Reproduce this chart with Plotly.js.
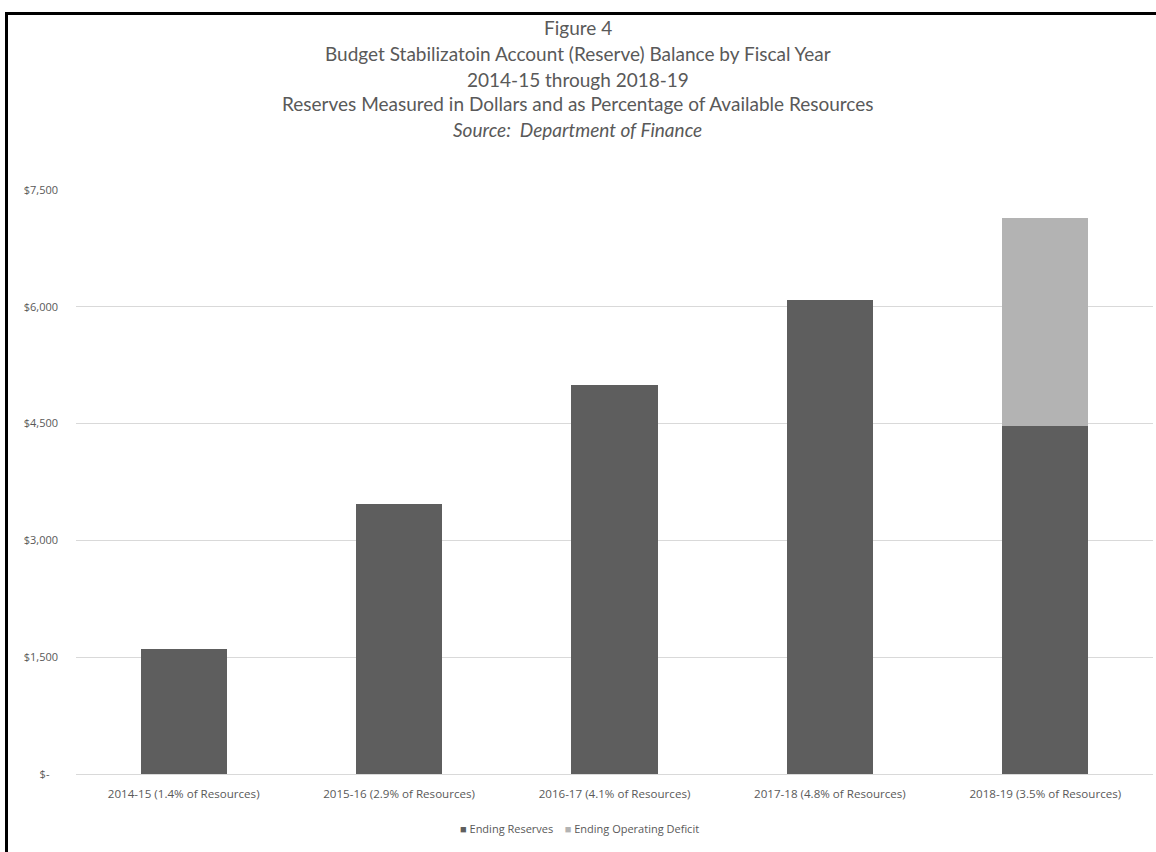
<!DOCTYPE html>
<html>
<head>
<meta charset="utf-8">
<script src="https://cdn.plot.ly/plotly-3.0.1.min.js"></script>
<style>
html,body{margin:0;padding:0;background:#fff;}
#wrap{position:relative;width:1156px;height:852px;overflow:hidden;}
#chart{width:1156px;height:852px;}
#frame{position:absolute;left:5px;top:12px;width:1200px;height:900px;border-top:3px solid #000;border-left:3px solid #000;pointer-events:none;}
</style>
</head>
<body>
<div id="wrap"><div id="chart"></div><div id="frame"></div></div>
<script>
const categories = [
  "2014-15 (1.4% of Resources)",
  "2015-16 (2.9% of Resources)",
  "2016-17 (4.1% of Resources)",
  "2017-18 (4.8% of Resources)",
  "2018-19 (3.5% of Resources)"
];
const endingReserves = [1610, 3470, 5000, 6090, 4470];
const endingOperatingDeficit = [0, 0, 0, 0, 2670];
const yTickVals = [0, 1500, 3000, 4500, 6000, 7500];
const yTickText = ["$-\u00a0\u00a0\u00a0", "$1,500", "$3,000", "$4,500", "$6,000", "$7,500"];
const titleLines = [
  "Figure 4",
  "Budget Stabilizatoin Account (Reserve) Balance by Fiscal Year",
  "2014-15 through 2018-19",
  "Reserves Measured in Dollars and as Percentage of Available Resources",
  "<i>Source:  Department of Finance</i>"
];
const titleY = [28, 54, 79, 104, 129];
const seriesNames = ["Ending Reserves", "Ending Operating Deficit"];
const seriesColors = ["#5e5e5e", "#b3b3b3"];

const W = 1156, H = 852;
const M = {l: 76, r: 3, t: 190, b: 78};
const plotW = W - M.l - M.r;
const plotH = H - M.t - M.b;
const px2x = p => (p - M.l) / plotW;
const py2y = p => 1 + (M.t - p) / plotH;

const traces = [
  {type: 'bar', name: seriesNames[0], x: categories, y: endingReserves,
   marker: {color: seriesColors[0]}, hoverinfo: 'y', showlegend: false},
  {type: 'bar', name: seriesNames[1], x: categories, y: endingOperatingDeficit,
   marker: {color: seriesColors[1]}, hoverinfo: 'y', showlegend: false}
];

const annotations = titleLines.map((t, i) => ({
  text: t, xref: 'paper', yref: 'paper', x: px2x(577.5), y: py2y(titleY[i]),
  xanchor: 'center', yanchor: 'middle', showarrow: false,
  font: {family: 'Lato, "Open Sans", sans-serif', size: 19, color: '#595959'}
}));

const nb = '\u00a0';
const legendText = seriesNames.map((n, i) =>
  `<span style="color:${seriesColors[i]}">■</span>${nb}${n}`).join(nb.repeat(4));
annotations.push({
  text: legendText, xref: 'paper', yref: 'paper', x: px2x(579), y: py2y(828),
  xanchor: 'center', yanchor: 'middle', showarrow: false,
  font: {family: '"Open Sans", sans-serif', size: 11, color: '#595959'}
});

const layout = {
  width: W, height: H,
  margin: M,
  paper_bgcolor: '#ffffff', plot_bgcolor: '#ffffff',
  barmode: 'stack', bargap: 0.6,
  font: {family: '"Open Sans", sans-serif', color: '#595959', size: 11},
  xaxis: {
    type: 'category', showgrid: false, showline: true, linecolor: '#d9d9d9', linewidth: 1,
    ticks: '', tickfont: {size: 11.6, color: '#595959'}, ticklabelstandoff: 9, fixedrange: true
  },
  yaxis: {
    range: [0, 7500], tickvals: yTickVals, ticktext: yTickText,
    showgrid: true, gridcolor: '#d9d9d9', gridwidth: 1, zeroline: true, zerolinecolor: '#d9d9d9',
    ticks: '', tickfont: {size: 11, color: '#595959'}, ticklabelstandoff: 17, fixedrange: true
  },
  annotations: annotations,
  showlegend: false
};

Plotly.newPlot('chart', traces, layout, {displayModeBar: false, staticPlot: true});
</script>
</body>
</html>
